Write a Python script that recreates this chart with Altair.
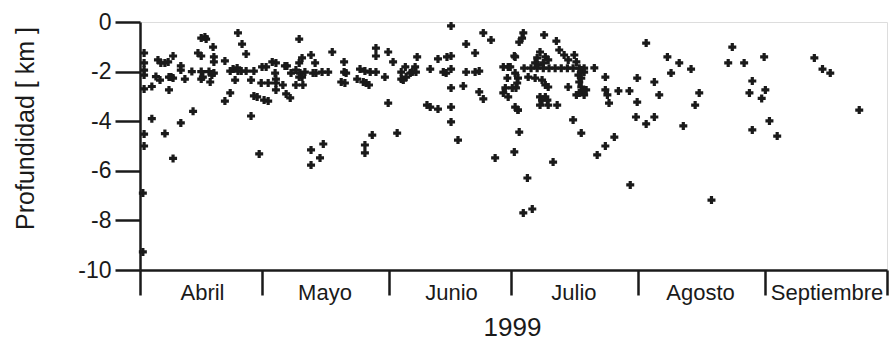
import altair as alt
import pandas as pd

# Days counted from 1 April 1999, depth in km
abril_dia = [1, 1, 1, 1, 1, 1, 1, 0.7, 0.7, 2.9, 2.9, 4.4, 5.1, 3.9, 4.9, 6.1, 6.9, 6.1, 7.1, 7.6,
             7.1, 8.1, 8.1, 8.1, 10, 10, 10, 11, 12.7, 13, 14.2, 15, 15, 15.9, 16.2, 15, 15, 15.4, 16.9, 17.2,
             17.6, 18.1, 17.9, 18.1, 18.1, 20.8, 22.1, 22.8, 23.3, 23.8, 24, 24.8, 26, 27.9, 24, 25, 26, 22.1,
             20.8, 27.2, 27.2, 27.9, 28.7, 29.2, 29.9, 29.7]
abril_prof = [-1.25, -1.65, -1.94, -2.14, -2.7, -4.52, -5.0, -6.9, -9.27, -2.6, -3.9, -1.53, -1.65, -2.2, -2.34, -1.65, -1.61, -4.5, -2.22, -2.22,
              -2.74, -1.37, -5.5, -2.26, -1.77, -1.94, -4.07, -2.3, -2.0, -3.6, -1.25, -1.37, -0.65, -0.6, -0.69, -2.0, -2.3, -2.22, -2.0, -2.42,
              -2.14, -2.06, -1.01, -1.41, -1.61, -1.57, -1.98, -1.9, -2.34, -1.85, -1.98, -1.98, -1.98, -1.98, -0.44, -0.89, -1.29, -2.86,
              -3.19, -2.34, -3.79, -2.98, -3.02, -5.32, -1.81, -2.46]

mayo_dia = [30.4, 30.9, 31.4, 31.4, 32.4, 33.3, 33.1, 33.3, 33.3, 33.3, 35, 35.8, 36.8, 35.5, 36, 37,
            38.2, 39, 39.7, 39.2, 39.7, 40.4, 39.9, 38.2, 39, 39, 41.9, 42.9, 42.4, 43.1, 44.6, 46.1, 47.1,
            50, 50, 50.5, 49.3, 50.2, 53.9, 55.1, 56.4, 57.8, 60, 53.2, 54.7, 55.4, 56.1, 57.8, 57.8,
            41.9, 41.9, 44.1, 44.9, 55.1, 55.1, 56.9, 60.8, 60.8]
mayo_prof = [-3.15, -1.81, -2.46, -3.19, -1.61, -1.65, -2.06, -2.3, -2.46, -2.74, -2.54, -2.9, -3.06, -1.77, -1.77, -2.06,
             -1.94, -1.65, -1.45, -2.06, -2.22, -2.02, -2.54, -2.54, -2.22, -0.69, -1.33, -1.65, -2.06, -2.06, -2.02, -2.02, -1.21,
             -1.61, -2.02, -2.06, -2.42, -2.46, -1.9, -1.98, -2.02, -2.02, -2.22, -2.3, -2.42, -2.46, -2.54, -1.05, -1.37,
             -5.16, -5.77, -5.48, -4.92, -4.96, -5.28, -4.56, -1.21, -3.27]

junio_dia = [62, 63, 64, 64, 65, 65.2, 66.2, 67.4, 67.6, 67.9, 64.5, 66.7, 71.1, 73, 74.3, 75, 75.2, 76.2,
             76.2, 76.2, 76.2, 79.2, 70.3, 71.1, 73, 76.2, 76.2, 77.9, 79.9, 82.1, 79.9, 82.1, 83.1, 83.1,
             84.1, 84.1, 86, 87, 89, 90.2, 89, 90, 90.7, 89.5, 90.2]
junio_prof = [-1.61, -4.48, -2.02, -2.3, -1.81, -2.22, -2.06, -1.81, -2.02, -1.41, -2.34, -2.02, -1.9, -1.49, -2.02, -2.06, -1.41, -1.37,
              -1.9, -0.16, -2.66, -2.58, -3.35, -3.43, -3.51, -3.43, -4.03, -4.76, -0.89, -1.25, -2.02, -2.02, -1.98, -2.82,
              -3.1, -0.44, -0.73, -5.48, -1.81, -1.81, -2.86, -2.26, -1.81, -2.66, -3.02]

julio_dia = [91.7, 91.7, 92.9, 94.9, 93.9, 96.1, 93.9, 93.6, 92.9, 99, 102,
             91.9, 91.9, 92.6, 92.4, 92.1, 91.2, 92.6,
             97.3, 98, 99.3, 100, 102.7, 103.9, 104.9, 106.4, 106.9,
             96.8, 97.5, 98.8,
             95.1, 96.8, 98.5, 99.3, 100, 104.9,
             107.4, 107.6, 108.1, 108.6, 107.6, 106.9, 108.8, 109.3, 108.1, 108.1, 108.8, 111.3,
             98, 99.3, 98.5, 99.8, 98, 100, 102.2,
             91.9, 92.6,
             94.1, 95.8, 97.3, 98.8, 100.2, 101.7, 103.2, 104.7, 106.1, 107.6, 108.8,
             114, 114, 114.5, 114.9, 117.2, 119.9, 121.8, 121.5, 121.8,
             106.1, 108.1, 116.2, 114, 112, 101.2, 120.1]
julio_prof = [-1.37, -5.24, -4.44, -6.29, -7.7, -7.54, -0.44, -0.65, -0.81, -0.52, -0.77,
              -1.41, -2.06, -2.26, -2.46, -2.66, -2.66, -3.55,
              -1.45, -1.21, -1.41, -1.53, -1.13, -1.33, -1.53, -1.33, -1.61,
              -1.65, -1.73, -1.65,
              -2.22, -2.26, -2.34, -2.54, -2.62, -2.62,
              -2.14, -2.42, -2.62, -2.82, -2.86, -2.94, -2.94, -2.74, -2.26, -1.94, -2.02, -1.85,
              -3.02, -3.02, -3.15, -3.15, -3.35, -3.35, -3.35,
              -3.43, -3.55,
              -1.86, -1.86, -1.86, -1.86, -1.86, -1.86, -1.86, -1.86, -1.86, -1.86, -1.86,
              -2.22, -2.74, -2.94, -3.27, -2.78, -2.78, -2.26, -3.83, -3.23,
              -3.95, -4.48, -4.64, -5.0, -5.36, -5.65, -6.57]

agosto_dia = [124, 126, 127.2, 126, 124, 129.2, 130.1, 132.1, 133.1, 135, 137, 136, 140,
              145.1, 144.1, 148, 150, 149.3, 150, 152.9, 152.3]
agosto_prof = [-0.85, -2.42, -2.94, -3.83, -4.11, -1.41, -2.06, -1.65, -4.19, -1.9, -2.86, -3.35, -7.18,
               -1.01, -1.65, -1.65, -2.38, -2.86, -4.35, -1.41, -3.08]

septiembre_dia = [153.2, 154.2, 156.1, 165.2, 167.2, 169.1, 176.2]
septiembre_prof = [-2.74, -3.99, -4.6, -1.45, -1.9, -2.06, -3.55]

month_starts = [0, 30, 61, 91, 122, 153, 183]
month_names = ["Abril", "Mayo", "Junio", "Julio", "Agosto", "Septiembre", ""]
y_ticks = [-10, -8, -6, -4, -2, 0]

dias = abril_dia + mayo_dia + junio_dia + julio_dia + agosto_dia + septiembre_dia
profs = abril_prof + mayo_prof + junio_prof + julio_prof + agosto_prof + septiembre_prof
df = pd.DataFrame({"dia": dias, "prof": profs})

label_expr = " : ".join(
    f"datum.value == {v} ? '{n}'" for v, n in zip(month_starts, month_names)
) + " : ''"

FONT = "Liberation Sans"
INK = "#1a1a1a"

chart = alt.Chart(df).mark_point(
    shape="cross", filled=True, size=64, color=INK, opacity=1, strokeWidth=0
).encode(
    x=alt.X(
        "dia:Q",
        scale=alt.Scale(domain=[0, 183], nice=False, zero=False),
        axis=alt.Axis(
            values=month_starts, labelExpr=label_expr, title="1999",
            tickSize=25, tickWidth=2.5, tickColor=INK, domainWidth=2.5, domainColor=INK,
            labelOffset=62, labelPadding=-13, labelFontSize=22, labelFont=FONT, labelColor=INK,
            labelOverlap=False, labelBound=False, labelFlush=False, grid=False,
            titleFont=FONT, titleFontSize=26, titleFontWeight="normal", titleColor=INK,
            titleX=372, titleY=57, titleBaseline="middle",
        ),
    ),
    y=alt.Y(
        "prof:Q",
        scale=alt.Scale(domain=[-10, 0], nice=False, zero=False),
        axis=alt.Axis(
            values=y_ticks, title="Profundidad [ km ]",
            labelExpr="datum.value < 0 ? '-' + abs(datum.value) : '' + datum.value",
            tickSize=25, tickWidth=2.5, tickColor=INK, domainWidth=2.5, domainColor=INK,
            labelPadding=4, labelFontSize=23, labelFont=FONT, labelColor=INK, grid=False,
            labelOverlap=False, labelBound=False, labelFlush=False,
            titleFont=FONT, titleFontSize=25, titleFontWeight="normal", titleColor=INK,
            titleX=-115, titleY=106, titleBaseline="middle", titleAngle=-90,
        ),
    ),
).properties(
    width=747, height=248,
    autosize=alt.AutoSizeParams(type="none"),
    padding={"left": 140, "top": 22, "right": 2, "bottom": 73},
).configure_view(
    stroke=INK, strokeWidth=2.5
).configure(background="white")

chart.save("out.html", embed_options={"renderer": "svg", "actions": False})
